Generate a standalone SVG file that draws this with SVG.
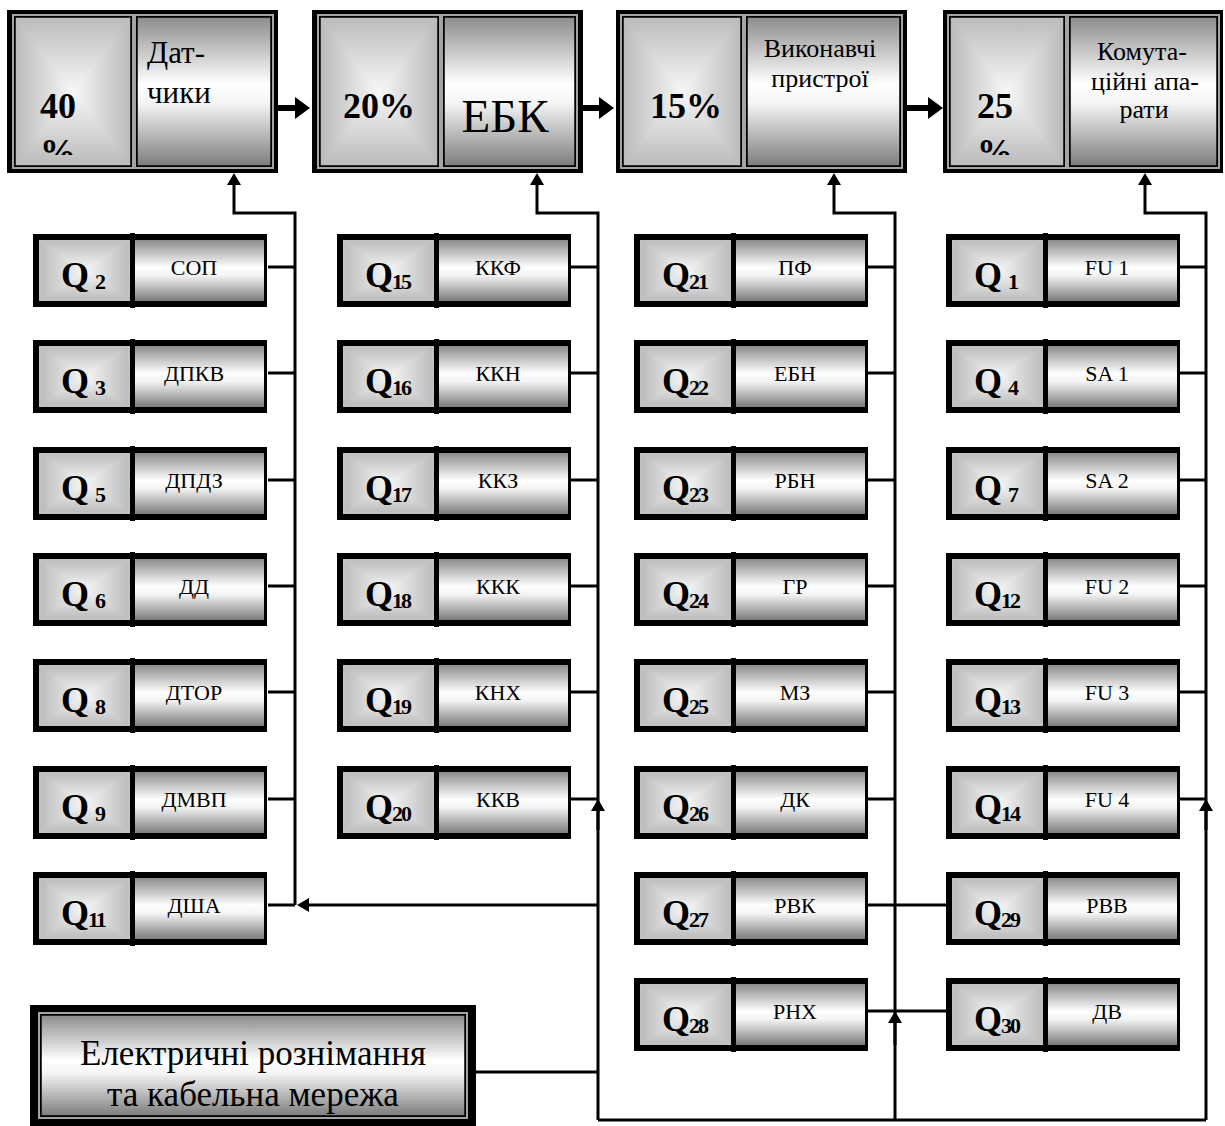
<svg xmlns="http://www.w3.org/2000/svg" xmlns:xlink="http://www.w3.org/1999/xlink" width="1225" height="1126" viewBox="0 0 1225 1126">
  <style>
    text { font-family: 'Liberation Serif', 'Times New Roman', serif; fill: #000; }
    .pct { font-size: 36px; font-weight: bold; }
    .cap { font-size: 26px; text-anchor: middle; }
    .q { font-size: 36px; font-weight: bold; }
    .sub { font-size: 22px; letter-spacing: -2px; }
    .lbl { font-size: 22px; text-anchor: middle; }
    .wire { fill: none; stroke: #000; stroke-width: 3; }
    .fat { fill: none; stroke: #000; stroke-width: 6; }
    .ring { stroke: #a4a4a4; stroke-width: 2; fill: none; }
    .edge { stroke: #000; stroke-width: 1.5; }
  </style>
  <defs>
    <linearGradient id="ringH" x1="0" y1="0" x2="1" y2="0">
      <stop offset="0" stop-color="#bababa"/>
      <stop offset="0.5" stop-color="#f7f7f7"/>
      <stop offset="1" stop-color="#bababa"/>
    </linearGradient>
    <linearGradient id="ringV" x1="0" y1="0" x2="0" y2="1">
      <stop offset="0" stop-color="#bababa"/>
      <stop offset="0.5" stop-color="#f7f7f7"/>
      <stop offset="1" stop-color="#bababa"/>
    </linearGradient>
    <linearGradient id="tube" x1="0" y1="0" x2="0" y2="1">
      <stop offset="0" stop-color="#8c8c8c"/>
      <stop offset="0.45" stop-color="#ffffff"/>
      <stop offset="0.58" stop-color="#f4f4f4"/>
      <stop offset="1" stop-color="#7c7c7c"/>
    </linearGradient>
    <marker id="tip" markerUnits="userSpaceOnUse" markerWidth="12" markerHeight="14" refX="0" refY="7" orient="auto" overflow="visible">
      <path d="M0,0 L12,7 L0,14 Z" fill="#000"/>
    </marker>
    <marker id="bigtip" markerUnits="userSpaceOnUse" markerWidth="15" markerHeight="22" refX="0" refY="11" orient="auto" overflow="visible">
      <path d="M0,0 L15,11 L0,22 Z" fill="#000"/>
    </marker>
    <!-- small switch block: left Q cell, right label cell -->
    <g id="qbox">
      <rect x="0" y="0" width="234" height="73" fill="#000"/>
      <g style="isolation:isolate">
        <rect x="6" y="6" width="91" height="61" fill="url(#ringH)"/>
        <rect x="6" y="6" width="91" height="61" fill="url(#ringV)" style="mix-blend-mode:darken"/>
      </g>
      <rect x="7" y="7" width="89" height="59" fill="none" stroke="#c8c8c8" stroke-width="1"/>
      <rect x="102" y="6" width="129" height="61" fill="url(#tube)"/>
      <rect x="97" y="-1" width="5" height="75" fill="#000"/>
    </g>
    <clipPath id="clip1"><rect x="15" y="17" width="116" height="138"/></clipPath>
    <clipPath id="clip4"><rect x="950" y="17" width="114" height="138"/></clipPath>
  </defs>

  <rect width="1225" height="1126" fill="#fff"/>

  <!-- wiring -->
  <g id="connectors">
    <!-- chain between the top blocks -->
    <path class="fat" d="M278,108 H295" marker-end="url(#bigtip)"/>
    <path class="fat" d="M583,108 H599" marker-end="url(#bigtip)"/>
    <path class="fat" d="M907,108 H928" marker-end="url(#bigtip)"/>

    <!-- column 1 bus -->
    <path class="wire" d="M295,905 V213 H234 V185" marker-end="url(#tip)"/>
    <path class="wire" d="M268,267 H295 M268,373 H295 M268,480 H295 M268,586 H295 M268,692 H295 M268,799 H295 M268,905 H295"/>
    <path class="wire" d="M598,905 H309" marker-end="url(#tip)"/>

    <!-- column 2 bus -->
    <path class="wire" d="M598,1120 V213 H537 V185" marker-end="url(#tip)"/>
    <path class="wire" d="M571,267 H598 M571,373 H598 M571,480 H598 M571,586 H598 M571,692 H598 M571,799 H598"/>
    <path class="wire" d="M598,830 V811" marker-end="url(#tip)"/>

    <!-- column 3 bus -->
    <path class="wire" d="M895,1120 V213 H834 V185" marker-end="url(#tip)"/>
    <path class="wire" d="M868,267 H895 M868,373 H895 M868,480 H895 M868,586 H895 M868,692 H895 M868,799 H895"/>
    <path class="wire" d="M868,905 H946 M868,1011 H946"/>
    <path class="wire" d="M895,1045 V1023" marker-end="url(#tip)"/>

    <!-- column 4 bus -->
    <path class="wire" d="M1206,1120 V213 H1145 V185" marker-end="url(#tip)"/>
    <path class="wire" d="M1179,267 H1206 M1179,373 H1206 M1179,480 H1206 M1179,586 H1206 M1179,692 H1206 M1179,799 H1206"/>
    <path class="wire" d="M1206,830 V811" marker-end="url(#tip)"/>

    <!-- cable network feed -->
    <path class="wire" d="M476,1072 H598"/>
    <path class="wire" d="M598,1120 H1206"/>
  </g>

  <!-- top blocks -->
  <g id="sensors">
    <rect x="7" y="10" width="271" height="163" fill="#000"/>
    <g style="isolation:isolate">
      <rect x="15" y="17" width="116" height="149" fill="url(#ringH)"/>
      <rect x="15" y="17" width="116" height="149" fill="url(#ringV)" style="mix-blend-mode:darken"/>
    </g>
    <rect x="15" y="17" width="116" height="149" fill="none" class="edge"/>
    <rect x="13" y="15" width="120" height="153" class="ring"/>
    <rect x="137" y="17" width="134" height="149" fill="url(#tube)" class="edge"/>
    <rect x="135" y="15" width="138" height="153" class="ring"/>
    <g clip-path="url(#clip1)">
      <text class="pct" x="40" y="118">40</text>
      <text class="pct" x="40" y="164">%</text>
    </g>
    <text x="147" y="63" font-size="31">Дат-</text>
    <text x="147" y="103" font-size="31">чики</text>
  </g>

  <g id="ebk">
    <rect x="312" y="10" width="271" height="163" fill="#000"/>
    <g style="isolation:isolate">
      <rect x="320" y="17" width="118" height="149" fill="url(#ringH)"/>
      <rect x="320" y="17" width="118" height="149" fill="url(#ringV)" style="mix-blend-mode:darken"/>
    </g>
    <rect x="320" y="17" width="118" height="149" fill="none" class="edge"/>
    <rect x="318" y="15" width="122" height="153" class="ring"/>
    <rect x="444" y="17" width="131" height="149" fill="url(#tube)" class="edge"/>
    <rect x="442" y="15" width="135" height="153" class="ring"/>
    <text class="pct" x="343" y="118">20%</text>
    <text x="505" y="132" font-size="47" text-anchor="middle">ЕБК</text>
  </g>

  <g id="actuators">
    <rect x="616" y="10" width="291" height="163" fill="#000"/>
    <g style="isolation:isolate">
      <rect x="623" y="17" width="118" height="149" fill="url(#ringH)"/>
      <rect x="623" y="17" width="118" height="149" fill="url(#ringV)" style="mix-blend-mode:darken"/>
    </g>
    <rect x="623" y="17" width="118" height="149" fill="none" class="edge"/>
    <rect x="621" y="15" width="122" height="153" class="ring"/>
    <rect x="747" y="17" width="153" height="149" fill="url(#tube)" class="edge"/>
    <rect x="745" y="15" width="157" height="153" class="ring"/>
    <text class="pct" x="650" y="118">15%</text>
    <text class="cap" x="820" y="57">Виконавчі</text>
    <text class="cap" x="820" y="87">пристрої</text>
  </g>

  <g id="switchgear">
    <rect x="943" y="10" width="280" height="163" fill="#000"/>
    <g style="isolation:isolate">
      <rect x="950" y="17" width="114" height="149" fill="url(#ringH)"/>
      <rect x="950" y="17" width="114" height="149" fill="url(#ringV)" style="mix-blend-mode:darken"/>
    </g>
    <rect x="950" y="17" width="114" height="149" fill="none" class="edge"/>
    <rect x="948" y="15" width="118" height="153" class="ring"/>
    <rect x="1070" y="17" width="147" height="149" fill="url(#tube)" class="edge"/>
    <rect x="1068" y="15" width="151" height="153" class="ring"/>
    <g clip-path="url(#clip4)">
      <text class="pct" x="977" y="118">25</text>
      <text class="pct" x="977" y="164">%</text>
    </g>
    <text class="cap" x="1142" y="60">Комута-</text>
    <text class="cap" x="1145" y="90">ційні апа-</text>
    <text class="cap" x="1144" y="118">рати</text>
  </g>

  <!-- column 1: sensors -->
  <g id="q2"><use href="#qbox" x="33" y="234"/><text class="q" x="61" y="287">Q<tspan class="sub" dx="6" dy="2">2</tspan></text><text class="lbl" x="194" y="275">СОП</text></g>
  <g id="q3"><use href="#qbox" x="33" y="340"/><text class="q" x="61" y="393">Q<tspan class="sub" dx="6" dy="2">3</tspan></text><text class="lbl" x="194" y="381">ДПКВ</text></g>
  <g id="q5"><use href="#qbox" x="33" y="447"/><text class="q" x="61" y="500">Q<tspan class="sub" dx="6" dy="2">5</tspan></text><text class="lbl" x="194" y="488">ДПДЗ</text></g>
  <g id="q6"><use href="#qbox" x="33" y="553"/><text class="q" x="61" y="606">Q<tspan class="sub" dx="6" dy="2">6</tspan></text><text class="lbl" x="194" y="594">ДД</text></g>
  <g id="q8"><use href="#qbox" x="33" y="659"/><text class="q" x="61" y="712">Q<tspan class="sub" dx="6" dy="2">8</tspan></text><text class="lbl" x="194" y="700">ДТОР</text></g>
  <g id="q9"><use href="#qbox" x="33" y="766"/><text class="q" x="61" y="819">Q<tspan class="sub" dx="6" dy="2">9</tspan></text><text class="lbl" x="194" y="807">ДМВП</text></g>
  <g id="q11"><use href="#qbox" x="33" y="872"/><text class="q" x="61" y="925">Q<tspan class="sub" dx="-1" dy="2">11</tspan></text><text class="lbl" x="194" y="913">ДША</text></g>

  <!-- column 2: control unit circuits -->
  <g id="q15"><use href="#qbox" x="337" y="234"/><text class="q" x="365" y="287">Q<tspan class="sub" dx="-1" dy="2">15</tspan></text><text class="lbl" x="498" y="275">ККФ</text></g>
  <g id="q16"><use href="#qbox" x="337" y="340"/><text class="q" x="365" y="393">Q<tspan class="sub" dx="-1" dy="2">16</tspan></text><text class="lbl" x="498" y="381">ККН</text></g>
  <g id="q17"><use href="#qbox" x="337" y="447"/><text class="q" x="365" y="500">Q<tspan class="sub" dx="-1" dy="2">17</tspan></text><text class="lbl" x="498" y="488">ККЗ</text></g>
  <g id="q18"><use href="#qbox" x="337" y="553"/><text class="q" x="365" y="606">Q<tspan class="sub" dx="-1" dy="2">18</tspan></text><text class="lbl" x="498" y="594">ККК</text></g>
  <g id="q19"><use href="#qbox" x="337" y="659"/><text class="q" x="365" y="712">Q<tspan class="sub" dx="-1" dy="2">19</tspan></text><text class="lbl" x="498" y="700">КНХ</text></g>
  <g id="q20"><use href="#qbox" x="337" y="766"/><text class="q" x="365" y="819">Q<tspan class="sub" dx="-1" dy="2">20</tspan></text><text class="lbl" x="498" y="807">ККВ</text></g>

  <!-- column 3: actuators -->
  <g id="q21"><use href="#qbox" x="634" y="234"/><text class="q" x="662" y="287">Q<tspan class="sub" dx="-1" dy="2">21</tspan></text><text class="lbl" x="795" y="275">ПФ</text></g>
  <g id="q22"><use href="#qbox" x="634" y="340"/><text class="q" x="662" y="393">Q<tspan class="sub" dx="-1" dy="2">22</tspan></text><text class="lbl" x="795" y="381">ЕБН</text></g>
  <g id="q23"><use href="#qbox" x="634" y="447"/><text class="q" x="662" y="500">Q<tspan class="sub" dx="-1" dy="2">23</tspan></text><text class="lbl" x="795" y="488">РБН</text></g>
  <g id="q24"><use href="#qbox" x="634" y="553"/><text class="q" x="662" y="606">Q<tspan class="sub" dx="-1" dy="2">24</tspan></text><text class="lbl" x="795" y="594">ГР</text></g>
  <g id="q25"><use href="#qbox" x="634" y="659"/><text class="q" x="662" y="712">Q<tspan class="sub" dx="-1" dy="2">25</tspan></text><text class="lbl" x="795" y="700">МЗ</text></g>
  <g id="q26"><use href="#qbox" x="634" y="766"/><text class="q" x="662" y="819">Q<tspan class="sub" dx="-1" dy="2">26</tspan></text><text class="lbl" x="795" y="807">ДК</text></g>
  <g id="q27"><use href="#qbox" x="634" y="872"/><text class="q" x="662" y="925">Q<tspan class="sub" dx="-1" dy="2">27</tspan></text><text class="lbl" x="795" y="913">РВК</text></g>
  <g id="q28"><use href="#qbox" x="634" y="978"/><text class="q" x="662" y="1031">Q<tspan class="sub" dx="-1" dy="2">28</tspan></text><text class="lbl" x="795" y="1019">РНХ</text></g>

  <!-- column 4: switching devices -->
  <g id="q1"><use href="#qbox" x="946" y="234"/><text class="q" x="974" y="287">Q<tspan class="sub" dx="6" dy="2">1</tspan></text><text class="lbl" x="1107" y="275">FU 1</text></g>
  <g id="q4"><use href="#qbox" x="946" y="340"/><text class="q" x="974" y="393">Q<tspan class="sub" dx="6" dy="2">4</tspan></text><text class="lbl" x="1107" y="381">SA 1</text></g>
  <g id="q7"><use href="#qbox" x="946" y="447"/><text class="q" x="974" y="500">Q<tspan class="sub" dx="6" dy="2">7</tspan></text><text class="lbl" x="1107" y="488">SA 2</text></g>
  <g id="q12"><use href="#qbox" x="946" y="553"/><text class="q" x="974" y="606">Q<tspan class="sub" dx="-1" dy="2">12</tspan></text><text class="lbl" x="1107" y="594">FU 2</text></g>
  <g id="q13"><use href="#qbox" x="946" y="659"/><text class="q" x="974" y="712">Q<tspan class="sub" dx="-1" dy="2">13</tspan></text><text class="lbl" x="1107" y="700">FU 3</text></g>
  <g id="q14"><use href="#qbox" x="946" y="766"/><text class="q" x="974" y="819">Q<tspan class="sub" dx="-1" dy="2">14</tspan></text><text class="lbl" x="1107" y="807">FU 4</text></g>
  <g id="q29"><use href="#qbox" x="946" y="872"/><text class="q" x="974" y="925">Q<tspan class="sub" dx="-1" dy="2">29</tspan></text><text class="lbl" x="1107" y="913">РВВ</text></g>
  <g id="q30"><use href="#qbox" x="946" y="978"/><text class="q" x="974" y="1031">Q<tspan class="sub" dx="-1" dy="2">30</tspan></text><text class="lbl" x="1107" y="1019">ДВ</text></g>

  <!-- connectors and cabling block -->
  <g id="cabling">
    <rect x="30" y="1005" width="446" height="121" fill="#000"/>
    <rect x="41" y="1015" width="424" height="101" fill="url(#tube)" class="edge"/>
    <rect x="39" y="1013" width="428" height="105" class="ring"/>
    <text x="253" y="1065" font-size="35" text-anchor="middle">Електричні рознімання</text>
    <text x="253" y="1106" font-size="35" text-anchor="middle">та кабельна мережа</text>
  </g>
</svg>
